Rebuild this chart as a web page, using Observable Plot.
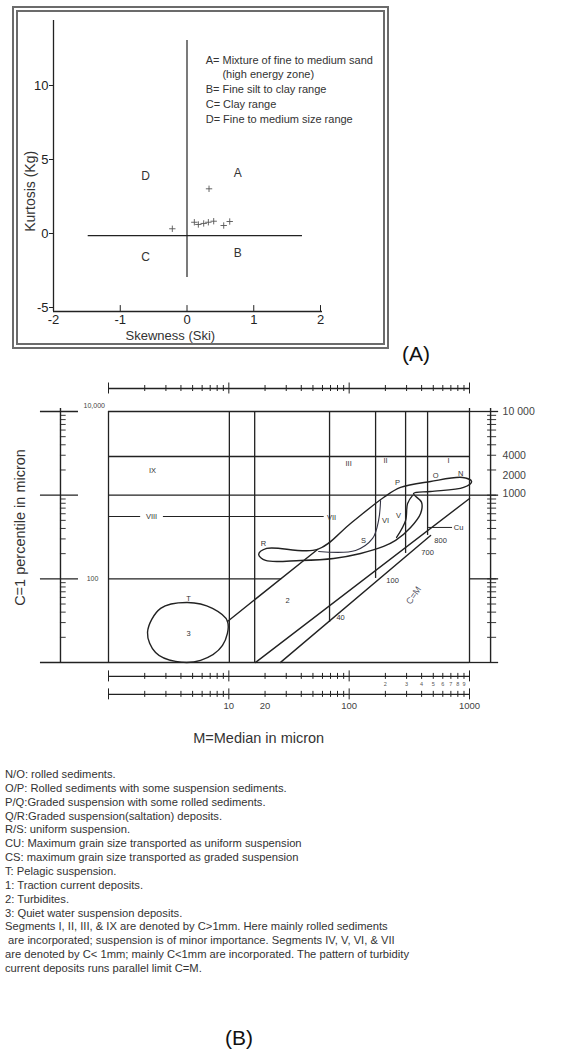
<!DOCTYPE html>
<html><head><meta charset="utf-8">
<script src="https://cdn.jsdelivr.net/npm/d3@7"></script>
<script src="https://cdn.jsdelivr.net/npm/@observablehq/plot@0.6"></script>
<style>
html,body{margin:0;padding:0;background:#fff;}
body{width:565px;height:1057px;position:relative;overflow:hidden;font-family:"Liberation Sans",Arial,sans-serif;color:#222;}
#a{position:absolute;left:0;top:0;}
#frameA{position:absolute;left:12px;top:6px;width:365px;height:331px;border:6px double #6b6b6b;pointer-events:none;}
#labA{position:absolute;left:402px;top:342px;font-size:21px;color:#111;}
#b{position:absolute;left:0;top:375px;}
#notes{position:absolute;left:5px;top:768px;font-size:11.2px;line-height:13.86px;color:#333;white-space:pre;}
#labB{position:absolute;left:225px;top:1026px;font-size:21px;color:#111;}
</style></head>
<body>
<div id="a"></div>
<div id="frameA"></div>
<div id="labA">(A)</div>
<div id="b"></div>
<div id="notes"></div>
<div id="labB">(B)</div>
<script>
// ---------- Panel A data ----------
const skewness = [0.33, -0.22, 0.11, 0.17, 0.25, 0.32, 0.40, 0.55, 0.64];
const kurtosis = [3.02, 0.32, 0.76, 0.61, 0.68, 0.76, 0.83, 0.54, 0.81];
const quadrantLetters = ["A", "B", "C", "D"];
const quadrantSk = [0.76, 0.76, -0.62, -0.62];
const quadrantKg = [4.1, -1.3, -1.6, 3.9];
const legendText = ["A= Mixture of fine to medium sand", "(high energy zone)", "B= Fine silt to clay range", "C= Clay range", "D= Fine to medium size range"];
const legendSk = [0.28, 0.53, 0.28, 0.28, 0.28];
const legendKg = [11.69, 10.74, 9.73, 8.72, 7.70];
const xTicksA = [-2, -1, 0, 1, 2];
const yTicksA = [-5, 0, 5, 10];

// ---------- Panel B data ----------
const fullHLinesC = [10000, 2900, 1000, 10];
const vLineM = [1, 10.1, 16.4, 68.7, 165.8, 294.4, 448.4, 1000];
const vLineLowC = [10, 10, 10, 30.1, 101, 201, 330, 9.75];
const vLineHighC = [10000, 10000, 10000, 10000, 10000, 10000, 10000, 10860];
const rightTickValues = [10000, 2981, 1719, 1048];
const rightTickLabels = ["10 000", "4000", "2000", "1000"];
const bottomTickValues = [10, 20, 100, 1000];
const bottomTickLabels = ["10", "20", "100", "1000"];
const smallDigitValues = [200, 300, 400, 500, 600, 700, 800, 900];
const smallDigitLabels = ["2", "3", "4", "5", "6", "7", "8", "9"];
const ellipseM = [2.11, 2.71, 4.54, 7.32, 9.75, 8.86, 5.82, 3.61, 2.46];
const ellipseC = [22.9, 44.3, 52.2, 44.3, 30.97, 16.0, 10.6, 10.3, 13.2];
const envelopeM = [17.7, 20.6, 54.6, 102.7, 193.2, 267.5, 475, 876.5, 1041, 893.3, 475, 343, 399.9, 392.3, 323.9, 243.1, 193.2, 124.4, 74.2, 39.4, 20.2];
const envelopeC = [195.7, 230.7, 224.5, 459, 938.6, 1236, 1458, 1627, 1458, 1236, 1107, 1048, 818.2, 604.6, 411.3, 287.6, 243.9, 201.1, 175.3, 165.9, 165.9];
const hairpinM = [247.8, 294.4, 305.9, 336.5];
const hairpinC = [312.3, 498.7, 795.8, 992];
const innerTailM = [55.7, 113.0, 156.5, 175.6, 182.4];
const innerTailC = [212.5, 218.4, 303.9, 498.7, 864.7];
const lineD1 = {m: [9.75, 54.6], c: [30.97, 224.5]};
const lineAlpha = {m: [16.7, 1002], c: [10.03, 913]};
const lineBeta = {m: [26.9, 475], c: [10.03, 330]};
const bLabelText = ["IX", "III", "II", "I", "P", "O", "N", "V", "VII", "VI", "S", "R", "Cu", "800", "700", "100", "40", "T", "3", "2"];
const bLabelM = [2.32, 98.9, 200.7, 670.5, 252.6, 522.6, 843.5, 257.5, 71.4, 200.7, 131.7, 19.4, 811.9, 575.3, 448.4, 229.5, 84.8, 4.62, 4.62, 30.8];
const bLabelC = [1973, 2391, 2597, 2597, 1418, 1719, 1817, 572, 541, 498.7, 287.6, 264.9, 411.3, 287.6, 206.8, 95.7, 34.6, 58.3, 22.3, 55.2];

const noteLines = [
  "N/O: rolled sediments.",
  "O/P: Rolled sediments with some suspension sediments.",
  "P/Q:Graded suspension with some rolled sediments.",
  "Q/R:Graded suspension(saltation) deposits.",
  "R/S: uniform suspension.",
  "CU: Maximum grain size transported as uniform suspension",
  "CS: maximum grain size transported as graded suspension",
  "T: Pelagic suspension.",
  "1: Traction current deposits.",
  "2: Turbidites.",
  "3: Quiet water suspension deposits.",
  "Segments I, II, III, & IX are denoted by C>1mm. Here mainly rolled sediments",
  " are incorporated; suspension is of minor importance. Segments IV, V, VI, & VII",
  "are denoted by C< 1mm; mainly C<1mm are incorporated. The pattern of turbidity",
  "current deposits runs parallel limit C=M."
];

const font = "'Liberation Sans', Arial, sans-serif";
const ink = "#222";

// ---------- Panel A ----------
const pts = skewness.map((s, i) => ({s, k: kurtosis[i]}));
const quads = quadrantLetters.map((t, i) => ({t, s: quadrantSk[i], k: quadrantKg[i]}));
const legend = legendText.map((t, i) => ({t, s: legendSk[i], k: legendKg[i]}));

const plotA = Plot.plot({
  width: 400, height: 350,
  marginLeft: 53, marginRight: 80, marginTop: 85, marginBottom: 39,
  x: {domain: [-2, 2]},
  y: {domain: [-5.27, 10]},
  style: {fontFamily: font, fontSize: "13px", background: "transparent", color: ink, overflow: "visible"},
  marks: [
    Plot.ruleX([-2], {y1: -5.27, y2: 14.39, stroke: ink, strokeWidth: 1.3}),
    Plot.ruleY([-5.27], {x1: -2, x2: 2.03, stroke: ink, strokeWidth: 1.3}),
    Plot.ruleX(xTicksA, {y1: -5.27, y2: -4.87, stroke: ink}),
    Plot.axisX({ticks: xTicksA, tickSize: 0, tickPadding: 3, label: null, fontSize: 13, tickFormat: d => String(d)}),
    Plot.axisY({ticks: yTicksA, tickSize: 4, tickPadding: 1, label: null, fontSize: 13, tickFormat: d => String(d)}),
    Plot.ruleX([0], {y1: -2.97, y2: 13.04, stroke: ink, strokeWidth: 1.2}),
    Plot.ruleY([-0.15], {x1: -1.48, x2: 1.73, stroke: ink, strokeWidth: 1.2}),
    Plot.dot(pts, {x: "s", y: "k", symbol: "plus", r: 2.2, stroke: "#555", strokeWidth: 0.9}),
    Plot.text(quads, {x: "s", y: "k", text: "t", fontSize: 12, fill: "#333"}),
    Plot.text(legend, {x: "s", y: "k", text: "t", textAnchor: "start", fontSize: 11, fill: "#333"}),
    Plot.text(["Kurtosis (Kg)"], {x: -2.345, y: 2.85, text: d => d, rotate: -90, fontSize: 14, fill: "#333"}),
    Plot.text(["Skewness (Ski)"], {x: -0.25, y: -6.9, text: d => d, fontSize: 13, fill: "#333"})
  ]
});
document.getElementById("a").appendChild(plotA);

// ---------- Panel B ----------
const zip = (ms, cs) => ms.map((m, i) => ({m, c: cs[i]}));
const xTicksB = d3.scaleLog().domain([1, 1000]).ticks();
const yTicksB = d3.scaleLog().domain([10, 10000]).ticks();
const isMajor = v => Math.abs(Math.log10(v) - Math.round(Math.log10(v))) < 1e-9;
const barC = [18830, 6.82, 4.16];
const barTicks = barC.flatMap(c => xTicksB.map(m => ({m, c, f: isMajor(m) ? 1.163 : 1.086})));
const vlines = vLineM.map((m, i) => ({m, lo: vLineLowC[i], hi: vLineHighC[i]}));
const rightLab = rightTickValues.map((c, i) => ({c, t: rightTickLabels[i]}));
const bottomLab = bottomTickValues.map((m, i) => ({m, t: bottomTickLabels[i]}));
const smallLab = smallDigitValues.map((m, i) => ({m, t: smallDigitLabels[i]}));
const bLabels = bLabelText.map((t, i) => ({t, m: bLabelM[i], c: bLabelC[i]}));
const lw = 1.3;

const plotB = Plot.plot({
  width: 565, height: 375,
  x: {type: "log", domain: [1, 1000], range: [108, 469], axis: null},
  y: {type: "log", domain: [10, 10000], range: [287, 36], axis: null},
  style: {fontFamily: font, background: "transparent", color: ink, overflow: "visible"},
  marks: [
    // grid / frame
    Plot.ruleY(fullHLinesC, {y: d => d, x1: 1, x2: 1000, stroke: ink, strokeWidth: lw}),
    Plot.ruleY([100], {x1: 1, x2: 27.5, stroke: ink, strokeWidth: lw}),
    Plot.ruleY([557, 557], {y: d => d, x1: [1, 2.86], x2: [1.85, 62], stroke: ink, strokeWidth: 1.1}),
    Plot.ruleX(vlines, {x: "m", y1: "lo", y2: "hi", stroke: ink, strokeWidth: lw}),
    // left axis
    Plot.ruleX([0.399], {y1: 9.75, y2: 10860, stroke: ink, strokeWidth: 1.4}),
    Plot.ruleY(yTicksB, {y: d => d, x1: 0.399, x2: d => isMajor(d) ? 0.399 : 0.445, stroke: ink, strokeWidth: 0.9}),
    Plot.ruleY([10000, 1000, 100, 10], {y: d => d, x1: 0.272, x2: d => d === 10 ? 1 : 0.563, stroke: ink, strokeWidth: lw}),
    // right axis
    Plot.ruleX([1497], {y1: 9.75, y2: 10860, stroke: ink, strokeWidth: 1.4}),
    Plot.ruleY(yTicksB, {y: d => d, x1: 1414, x2: 1680, stroke: ink, strokeWidth: 0.9}),
    Plot.ruleY([10000, 1000, 100, 10], {y: d => d, x1: 1000, x2: 1746, stroke: ink, strokeWidth: lw}),
    // scale bars
    Plot.ruleY(barC, {y: d => d, x1: 1, x2: 1000, stroke: ink, strokeWidth: 1.4}),
    Plot.ruleX(barTicks, {x: "m", y1: d => d.c / d.f, y2: d => d.c * d.f, stroke: ink, strokeWidth: 1}),
    // envelopes and limits
    Plot.line(zip(ellipseM, ellipseC), {x: "m", y: "c", curve: "catmull-rom-closed", stroke: ink, strokeWidth: 1.4}),
    Plot.line(zip(envelopeM, envelopeC), {x: "m", y: "c", curve: "catmull-rom-closed", stroke: ink, strokeWidth: 1.4}),
    Plot.line(zip(hairpinM, hairpinC), {x: "m", y: "c", curve: "catmull-rom", stroke: ink, strokeWidth: 1.3}),
    Plot.line(zip(innerTailM, innerTailC), {x: "m", y: "c", curve: "catmull-rom", stroke: "#334", strokeWidth: 1.1}),
    Plot.line(zip(lineD1.m, lineD1.c), {x: "m", y: "c", stroke: ink, strokeWidth: 1.4}),
    Plot.line(zip(lineAlpha.m, lineAlpha.c), {x: "m", y: "c", stroke: ink, strokeWidth: 1.4}),
    Plot.line(zip(lineBeta.m, lineBeta.c), {x: "m", y: "c", stroke: ink, strokeWidth: 1.4}),
    Plot.ruleY([411.3], {x1: 457, x2: 723, stroke: ink, strokeWidth: 1}),
    // labels
    Plot.text(bLabels, {x: "m", y: "c", text: "t", fontSize: 7.5, fill: "#333"}),
    Plot.text(["VIII"], {x: 2.28, y: 557, text: d => d, fontSize: 7.5, fill: "#333"}),
    Plot.text(["C=M"], {x: 343, y: 63.4, text: d => d, rotate: -55, fontSize: 9, fill: "#556"}),
    Plot.text(["10,000"], {x: 0.62, y: 11795, text: d => d, textAnchor: "start", fontSize: 7, fill: "#444"}),
    Plot.text(["100"], {x: 0.736, y: 101, text: d => d, fontSize: 7, fill: "#444"}),
    Plot.text(rightLab, {x: 1884, y: "c", text: "t", textAnchor: "start", fontSize: 10.5, fill: "#444"}),
    Plot.text(bottomLab, {x: "m", y: 2.99, text: "t", fontSize: 9.5, fill: "#444"}),
    Plot.text(smallLab, {x: "m", y: 5.5, text: "t", fontSize: 5.5, fill: "#555"}),
    Plot.text(["M=Median in micron"], {x: 17.7, y: 1.24, text: d => d, fontSize: 14.5, fill: "#333"}),
    Plot.text(["C=1 percentile in micron"], {x: 0.1855, y: 411, text: d => d, rotate: -90, fontSize: 14.5, fill: "#333"})
  ]
});
document.getElementById("b").appendChild(plotB);

const notes = document.getElementById("notes");
notes.textContent = noteLines.join("\n");
</script>
</body></html>
